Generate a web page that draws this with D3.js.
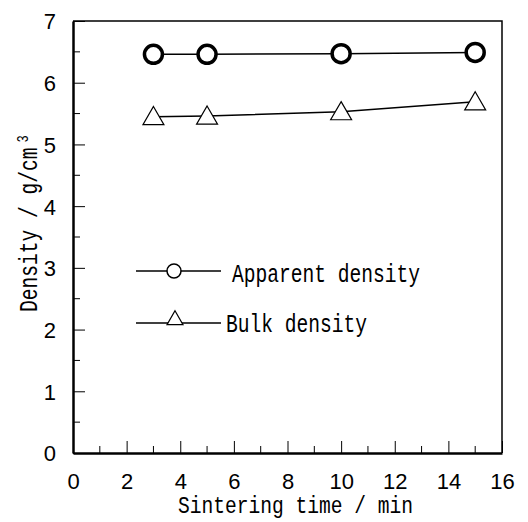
<!DOCTYPE html>
<html>
<head>
<meta charset="utf-8">
<script src="https://cdn.jsdelivr.net/npm/d3@7"></script>
<style>
  body { margin: 0; background: #fff; }
  svg { display: block; }
  .tick text { font-family: "Liberation Sans", Arial, sans-serif; font-size: 22px; fill: #000; }
  .mono { font-family: "Liberation Mono", monospace; font-size: 24.5px; fill: #000; }
</style>
</head>
<body>
<svg id="chart"></svg>
<script>
// data
const times = [3, 5, 10, 15];
const apparentDensity = [6.46, 6.46, 6.47, 6.49];
const bulkDensity = [5.45, 5.46, 5.53, 5.69];
const xTicks = [0, 2, 4, 6, 8, 10, 12, 14, 16];
const yTicks = [0, 1, 2, 3, 4, 5, 6, 7];

const W = 528, H = 522;
const m = { left: 73, right: 26, top: 21, bottom: 69 };

const svg = d3.select("#chart").attr("width", W).attr("height", H);

const x = d3.scaleLinear().domain([0, 16]).range([m.left, W - m.right]);
const y = d3.scaleLinear().domain([0, 7]).range([H - m.bottom, m.top]);

// frame top + right (thin)
svg.append("path")
  .attr("d", `M${x(0)},${y(7)}H${x(16)}V${y(0)}`)
  .attr("fill", "none").attr("stroke", "#000").attr("stroke-width", 1.5);

// minor ticks, inward
const minorX = d3.range(1, 16, 2);
const minorY = d3.range(0.5, 7, 1);
svg.append("g").selectAll("line").data(minorX).enter().append("line")
  .attr("x1", d => x(d)).attr("x2", d => x(d))
  .attr("y1", y(0)).attr("y2", y(0) - 7)
  .attr("stroke", "#000").attr("stroke-width", 1);
svg.append("g").selectAll("line").data(minorY).enter().append("line")
  .attr("x1", x(0)).attr("x2", x(0) + 7)
  .attr("y1", d => y(d)).attr("y2", d => y(d))
  .attr("stroke", "#000").attr("stroke-width", 1);

// bottom axis
const gx = svg.append("g")
  .attr("transform", `translate(0,${y(0)})`)
  .call(d3.axisBottom(x).tickValues(xTicks).tickFormat(d3.format("d"))
    .tickSizeInner(-12).tickSizeOuter(0).tickPadding(20));
gx.select(".domain").attr("stroke-width", 2.5);
gx.selectAll(".tick line").attr("stroke-width", 1);

// left axis
const gy = svg.append("g")
  .attr("transform", `translate(${x(0)},0)`)
  .call(d3.axisLeft(y).tickValues(yTicks).tickFormat(d3.format("d"))
    .tickSizeInner(-12).tickSizeOuter(0).tickPadding(17));
gy.select(".domain").attr("stroke-width", 2.5);
gy.selectAll(".tick line").attr("stroke-width", 1);
gy.selectAll(".tick text").attr("dy", "0.36em");

const line = d3.line().x(d => x(d[0])).y(d => y(d[1]));
const apparent = times.map((t, i) => [t, apparentDensity[i]]);
const bulk = times.map((t, i) => [t, bulkDensity[i]]);

svg.append("path").datum(apparent).attr("d", line)
  .attr("fill", "none").attr("stroke", "#000").attr("stroke-width", 1.5);
svg.append("path").datum(bulk).attr("d", line)
  .attr("fill", "none").attr("stroke", "#000").attr("stroke-width", 1.5);

const tri = d3.symbol().type(d3.symbolTriangle);

svg.append("g").selectAll("circle").data(apparent).enter().append("circle")
  .attr("cx", d => x(d[0])).attr("cy", d => y(d[1])).attr("r", 9)
  .attr("fill", "#fff").attr("stroke", "#000").attr("stroke-width", 3.5);

svg.append("g").selectAll("path").data(bulk).enter().append("path")
  .attr("d", tri.size(190))
  .attr("transform", d => `translate(${x(d[0])},${y(d[1]) + 2})`)
  .attr("fill", "#fff").attr("stroke", "#000").attr("stroke-width", 1.2);

// legend
const lg = svg.append("g");
lg.append("line").attr("x1", 136).attr("x2", 221).attr("y1", 271).attr("y2", 271)
  .attr("stroke", "#000").attr("stroke-width", 1.5);
lg.append("circle").attr("cx", 174).attr("cy", 271).attr("r", 7)
  .attr("fill", "#fff").attr("stroke", "#000").attr("stroke-width", 1.5);
lg.append("text").attr("class", "mono")
  .attr("transform", "translate(232,282) scale(0.8,1.05)")
  .text("Apparent density");

lg.append("line").attr("x1", 136).attr("x2", 221).attr("y1", 323).attr("y2", 323)
  .attr("stroke", "#000").attr("stroke-width", 1.5);
lg.append("path").attr("d", tri.size(110))
  .attr("transform", "translate(175,320)")
  .attr("fill", "#fff").attr("stroke", "#000").attr("stroke-width", 1.2);
lg.append("text").attr("class", "mono")
  .attr("transform", "translate(226,332) scale(0.8,1.05)")
  .text("Bulk density");

// axis titles
svg.append("text").attr("class", "mono")
  .attr("transform", "translate(178,513) scale(0.8,1.0)")
  .text("Sintering time / min");

const yt = svg.append("text").attr("class", "mono")
  .attr("transform", "translate(37,312) rotate(-90) scale(0.8,1.05)");
yt.append("tspan").text("Density / g/cm");
yt.append("tspan").attr("dy", -9).attr("dx", 6).style("font-size", "15px").text("3");
</script>
</body>
</html>
